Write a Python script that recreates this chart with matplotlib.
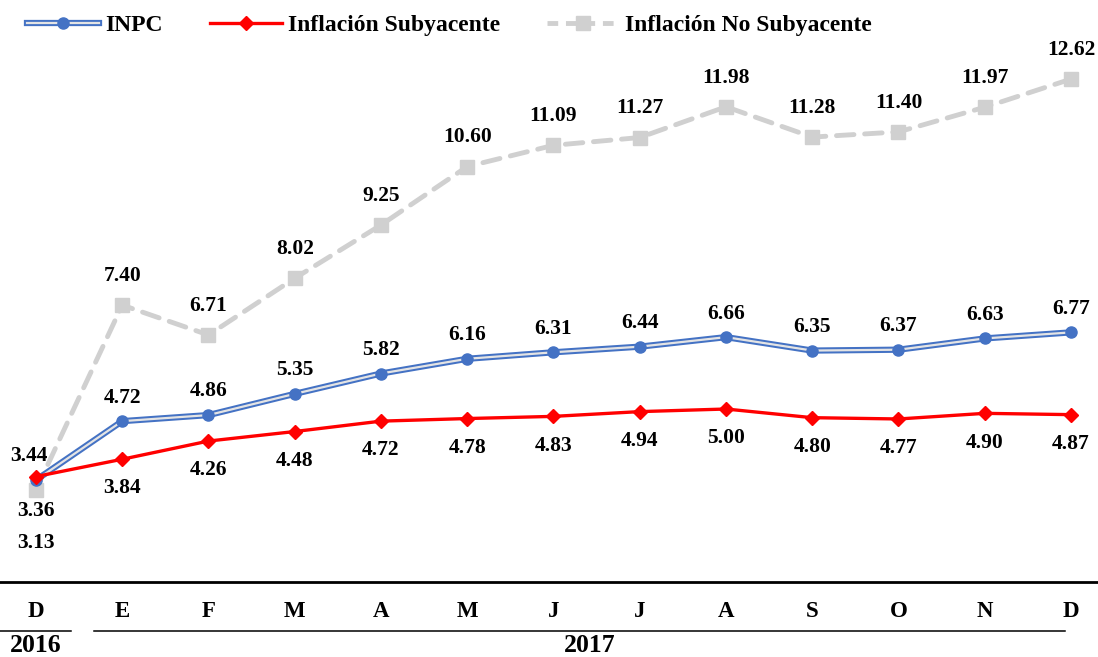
import matplotlib
matplotlib.use("Agg")
import matplotlib.pyplot as plt
from matplotlib.lines import Line2D
from matplotlib.legend_handler import HandlerTuple

months = ["D", "E", "F", "M", "A", "M", "J", "J", "A", "S", "O", "N", "D"]
years = ["2016", "2017"]
inpc = [3.36, 4.72, 4.86, 5.35, 5.82, 6.16, 6.31, 6.44, 6.66, 6.35, 6.37, 6.63, 6.77]
subyacente = [3.44, 3.84, 4.26, 4.48, 4.72, 4.78, 4.83, 4.94, 5.00, 4.80, 4.77, 4.90, 4.87]
no_subyacente = [3.13, 7.40, 6.71, 8.02, 9.25, 10.60, 11.09, 11.27, 11.98, 11.28, 11.40, 11.97, 12.62]

FONT = "Liberation Serif"
plt.rcParams["font.family"] = [FONT, "DejaVu Serif"]
plt.rcParams["font.weight"] = "bold"

BLUE = "#4472C4"
RED = "#FF0000"
GRAY = "#D0D0D0"
INNER = "#E4E4E4"

fig = plt.figure(figsize=(10.98, 6.57), dpi=100)
ax = fig.add_axes([0, 75 / 657, 1, 582 / 657])
x = list(range(len(months)))

# No subyacente (gray dashed)
ax.plot(x, no_subyacente, color=GRAY, lw=3.5, dashes=(3.6, 2.2), marker="s",
        markersize=9.5, markerfacecolor=GRAY, markeredgecolor=GRAY, zorder=2,
        dash_capstyle="round")
# INPC double line
ax.plot(x, inpc, color=BLUE, lw=4.5, zorder=3, solid_joinstyle="round")
ax.plot(x, inpc, color=INNER, lw=1.6, zorder=3.1, solid_joinstyle="round")
ax.plot(x, inpc, ls="none", marker="o", markersize=8, color=BLUE, zorder=3.2)
# Subyacente
ax.plot(x, subyacente, color=RED, lw=2.4, marker="D", markersize=7, zorder=4)

ax.set_xlim(-0.417, 12.313)
ax.set_ylim(1.005, 14.446)

fs = 15.5
def lab(xi, v, dx, dy):
    ax.annotate(f"{v:.2f}", (xi, v), xytext=(dx, dy), textcoords="offset points",
                ha="center", va="center", fontsize=fs, fontweight="bold", zorder=6)

for i, v in enumerate(inpc):
    lab(i, v, 0, -22 if i == 0 else 17)
for i, v in enumerate(subyacente):
    lab(i, v, -5 if i == 0 else 0, 15 if i == 0 else -21)
for i, v in enumerate(no_subyacente):
    lab(i, v, 0, -38 if i == 0 else 21)

# axes styling
for s in ["top", "left", "right"]:
    ax.spines[s].set_visible(False)
ax.spines["bottom"].set_linewidth(2)
ax.spines["bottom"].set_color("black")
ax.set_yticks([])
ax.set_xticks(x)
ax.set_xticklabels(months, fontsize=16.5, fontweight="bold")
ax.tick_params(axis="x", length=0, pad=14)

# year separators
tr = ax.get_xaxis_transform()
yl = -49 / 582
ax.plot([-0.417, 0.406], [yl, yl], color="black", lw=1.1, transform=tr, clip_on=False)
ax.plot([0.672, 11.93], [yl, yl], color="black", lw=1.1, transform=tr, clip_on=False)
ax.text(0, -63 / 582, years[0], transform=tr, ha="center", va="center", fontsize=18.5, fontweight="bold")
ax.text(6.42, -63.5 / 582, years[1], transform=tr, ha="center", va="center", fontsize=18.5, fontweight="bold")

# legend
h_inpc = (Line2D([], [], color=BLUE, lw=4.5),
          Line2D([], [], color=INNER, lw=1.6),
          Line2D([], [], ls="none", marker="o", markersize=8, color=BLUE))
h_sub = Line2D([], [], color=RED, lw=2.4, marker="D", markersize=7)
h_no = Line2D([], [], color=GRAY, lw=3.5, dashes=(2.2, 1.6), marker="s", markersize=9.5)
fig.legend([h_inpc, h_sub, h_no], ["INPC", "Inflación Subyacente", "Inflación No Subyacente"],
           handler_map={tuple: HandlerTuple(ndivide=1)}, ncol=3, frameon=False,
           loc="center left", bbox_to_anchor=(27 / 1098, 1 - 25 / 657),
           prop={"family": FONT, "weight": "bold", "size": 17},
           handlelength=3.05, handletextpad=0.25, columnspacing=2.0, borderpad=0, borderaxespad=0)

fig.savefig("out.png", dpi=100)
